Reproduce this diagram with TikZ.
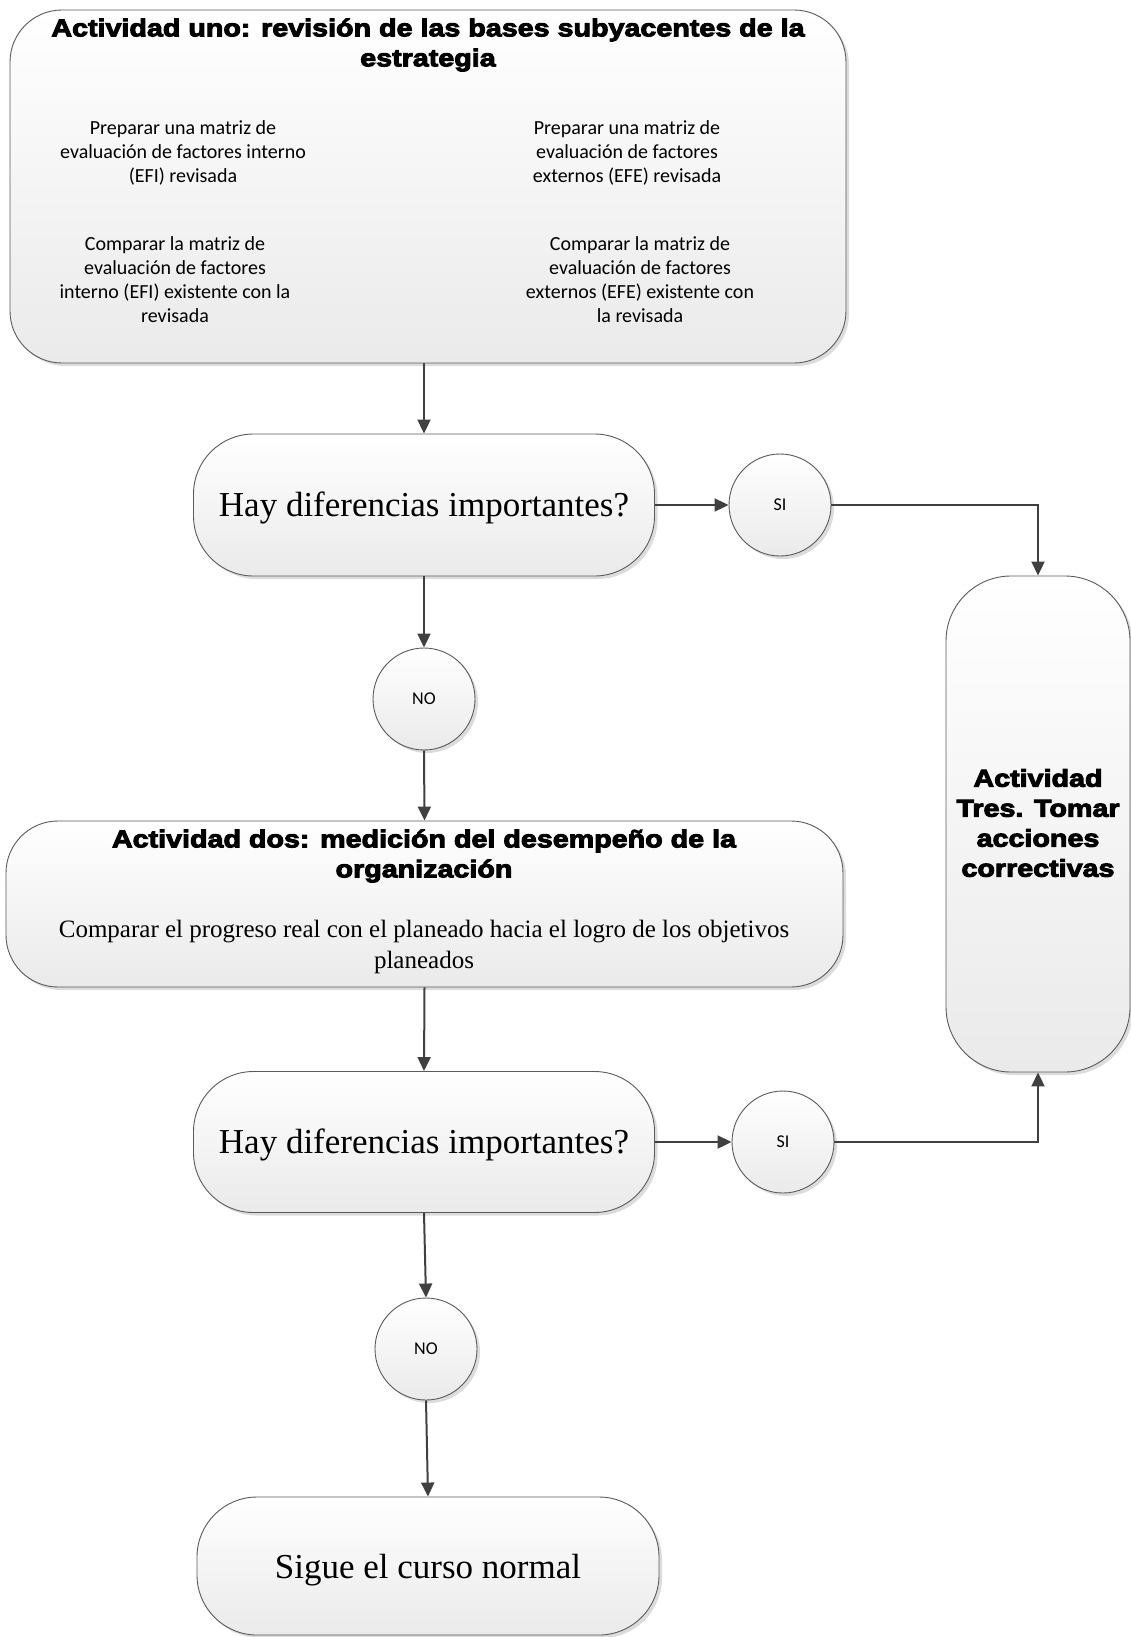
\documentclass[tikz,border=0pt]{standalone}
\usepackage{fontspec}
\setmainfont{Liberation Serif}
\newfontfamily\calib{Carlito}
\newfontfamily\heavy{Liberation Sans}[FakeStretch=1.18, BoldFeatures={FakeBold=4}]
\usetikzlibrary{arrows.meta,shadows}
\definecolor{linec}{HTML}{5A5A5A}
\definecolor{arrowc}{HTML}{404040}
\definecolor{fillb}{HTML}{EAEAEA}
\tikzset{
  box/.style={draw=linec, line width=0.9pt, rounded corners=#1, top color=white, bottom color=fillb,
    drop shadow={shadow xshift=3pt, shadow yshift=-3pt, fill=black!30, opacity=0.45}},
  circ/.style={circle, draw=linec, line width=0.9pt, minimum size=102pt, inner sep=0pt, top color=white, bottom color=fillb,
    drop shadow={shadow xshift=3pt, shadow yshift=-3pt, fill=black!30, opacity=0.45},
    font={\calib\fontsize{18}{22}\selectfont}},
  conn/.style={draw=arrowc, line width=2pt, -{Triangle[length=14pt,width=13pt]}},
  titletxt/.style={align=center, font={\heavy\bfseries\fontsize{24.3}{30}\selectfont}},
  smalltxt/.style={align=center, font={\calib\fontsize{20}{24}\selectfont}},
  serifbig/.style={align=center, font={\fontsize{35}{40}\selectfont}},
  serifmid/.style={align=center, font={\fontsize{25}{31}\selectfont}},
}
\begin{document}
\begin{tikzpicture}[x=1pt,y=-1pt]
\useasboundingbox (0,0) rectangle (1131,1637);
% boxes
\node[box=52pt, minimum width=836pt, minimum height=353pt] (act1) at (428,186.5) {};
\node[box=60pt, minimum width=461pt, minimum height=142pt] (d1) at (424,505) {};
\node[circ] (si1) at (780,505) {SI};
\node[box=65pt, minimum width=184pt, minimum height=496pt] (tres) at (1038,824) {};
\node[circ] (no1) at (424,699) {NO};
\node[box=52pt, minimum width=837pt, minimum height=166pt] (act2) at (424.5,904) {};
\node[box=60pt, minimum width=461pt, minimum height=141pt] (d2) at (424,1142) {};
\node[circ] (si2) at (783,1142) {SI};
\node[circ] (no2) at (426,1349) {NO};
\node[box=60pt, minimum width=462pt, minimum height=138pt] (sigue) at (428,1566) {};
% texts
\node[titletxt] (t1) at (428,45) {Actividad uno: revisión de las bases subyacentes de la\\estrategia};
\node[smalltxt] (a1) at (183,153) {Preparar una matriz de\\evaluación de factores interno\\(EFI) revisada};
\node[smalltxt] (a2) at (627,153) {Preparar una matriz de\\evaluación de factores\\externos (EFE) revisada};
\node[smalltxt] (a3) at (175,280) {Comparar la matriz de\\evaluación de factores\\interno (EFI) existente con la\\revisada};
\node[smalltxt] (a4) at (640,280) {Comparar la matriz de\\evaluación de factores\\externos (EFE) existente con\\la revisada};
\node[serifbig] (q1) at (424,508) {Hay diferencias importantes?};
\node[titletxt] (t3) at (1038,823) {Actividad\\Tres. Tomar\\acciones\\correctivas};
\node[titletxt] (t2) at (424,856) {Actividad dos: medición del desempeño de la\\organización};
\node[serifmid] (b2) at (424,947) {Comparar el progreso real con el planeado hacia el logro de los objetivos\\planeados};
\node[serifbig] (q2) at (424,1145) {Hay diferencias importantes?};
\node[serifbig] (s1) at (428,1570) {Sigue el curso normal};
% connectors
\draw[conn] (d1.north |- act1.south) -- (d1.north);
\draw[conn] (d1.east) -- (si1.west);
\draw[conn] (si1.east) -| (tres.north);
\draw[conn] (d1.south) -- (no1.north);
\draw[conn] (no1.south) -- (act2.north);
\draw[conn] (act2.south) -- (d2.north);
\draw[conn] (d2.east) -- (si2.west);
\draw[conn] (si2.east) -| (tres.south);
\draw[conn] (d2.south) -- (no2.north);
\draw[conn] (no2.south) -- (sigue.north);
\end{tikzpicture}
\end{document}
